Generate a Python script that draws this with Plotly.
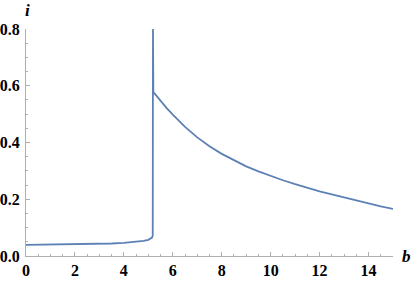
import plotly.graph_objects as go

# data
b_vals = [0.0, 1.0, 2.0, 3.0, 3.5, 4.0, 4.5, 4.8, 5.0, 5.1, 5.15, 5.18, 5.19, 5.205, 5.25,
          5.5, 5.75, 6.0, 6.5, 7.0, 7.5, 8.0, 8.5, 9.0, 9.5, 10.0, 10.5, 11.0, 11.5,
          12.0, 12.5, 13.0, 13.5, 14.0, 14.5, 15.0]
i_vals = [0.039, 0.040, 0.041, 0.043, 0.044, 0.046, 0.049, 0.053, 0.057, 0.061, 0.065,
          0.072, 0.800, 0.578, 0.573,
          0.546, 0.521, 0.498, 0.455, 0.418, 0.387, 0.360, 0.337, 0.316, 0.298,
          0.282, 0.267, 0.253, 0.240, 0.228, 0.217, 0.206, 0.195, 0.185, 0.175, 0.166]

x_ticks = [0, 2, 4, 6, 8, 10, 12, 14]
x_tick_labels = ["<b>%d</b>" % v for v in x_ticks]
y_ticks = [0.0, 0.2, 0.4, 0.6, 0.8]
y_tick_labels = ["<b>0.0</b>", "<b>0.2</b>", "<b>0.4</b>", "<b>0.6</b>", "<b>0.8</b>"]

serif = "Liberation Serif"
tick_font = dict(family=serif, size=16, color="black")
axis_gray = "#b0b0b0"

fig = go.Figure()
fig.add_trace(go.Scatter(x=b_vals, y=i_vals, mode="lines",
                         line=dict(color="#5E81B5", width=1.8),
                         hoverinfo="skip"))

fig.update_layout(
    width=414, height=283,
    margin=dict(l=26, r=21, t=29, b=27),
    plot_bgcolor="white", paper_bgcolor="white",
    showlegend=False,
    xaxis=dict(range=[0, 15], tickvals=x_ticks, ticktext=x_tick_labels,
               ticks="inside", ticklen=4, automargin=False,
               tickcolor=axis_gray, showline=True, linecolor=axis_gray, linewidth=1,
               showgrid=False, zeroline=False, tickfont=tick_font,
               minor=dict(ticks="inside", ticklen=2, dtick=0.5, tickcolor=axis_gray)),
    yaxis=dict(range=[0, 0.8], tickvals=y_ticks, ticktext=y_tick_labels,
               ticks="inside", ticklen=4, tickcolor=axis_gray, showline=True,
               automargin=False, ticklabelstandoff=2,
               linecolor=axis_gray, linewidth=1, showgrid=False, zeroline=False,
               tickfont=tick_font,
               minor=dict(ticks="inside", ticklen=2, dtick=0.05, tickcolor=axis_gray)),
    annotations=[
        dict(text="<b><i>i</i></b>", xref="paper", yref="paper", x=0, y=1,
             xanchor="left", yanchor="bottom", xshift=-3, yshift=7, showarrow=False,
             font=dict(family=serif, size=17, color="black")),
        dict(text="<b><i>b</i></b>", xref="paper", yref="paper", x=1, y=0,
             xanchor="left", yanchor="middle", xshift=7, showarrow=False,
             font=dict(family=serif, size=17, color="black")),
    ],
)

fig.write_html("out.html",
               config={"displayModeBar": False},
               post_script="document.body.style.margin='0';"
                           "document.body.style.overflow='hidden';")
